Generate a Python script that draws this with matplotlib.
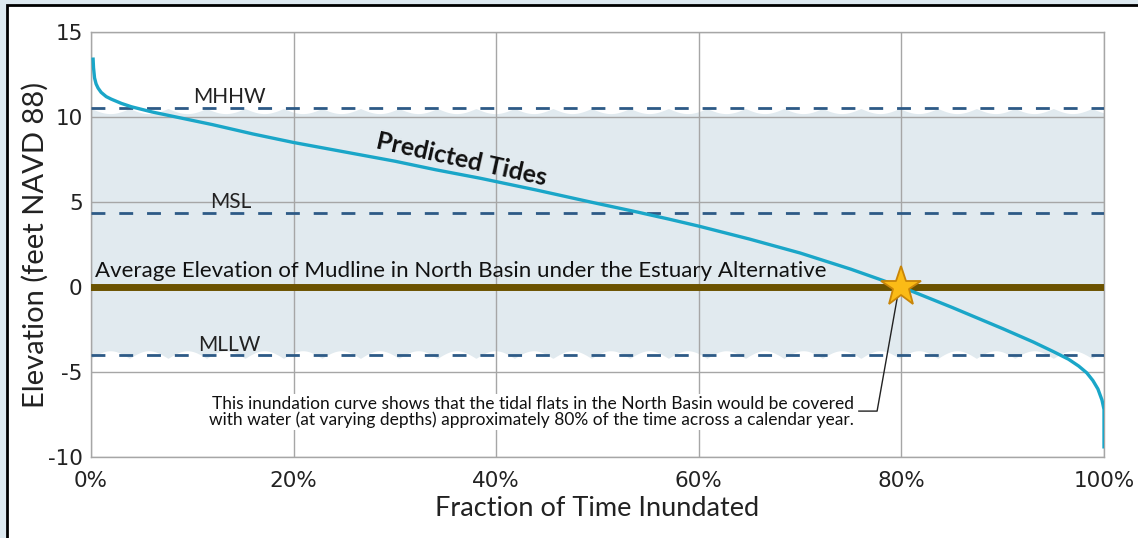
import numpy as np
import matplotlib
matplotlib.use('Agg')
import matplotlib.pyplot as plt
from matplotlib.patches import Rectangle

# inundation curve (percent of time, feet NAVD 88)
frac = [0.2, 0.25, 0.35, 0.5, 0.7, 1.0, 1.5, 2.0, 3.0, 4.0, 6.0, 8.0, 12.0, 16.0, 20.0,
        25.0, 30.0, 34.0, 38.4, 44.0, 49.3, 54.0, 57.0, 60.0, 65.0, 70.0, 75.0, 80.0,
        85.0, 90.0, 93.0, 95.0, 96.5, 97.5, 98.3, 98.9, 99.4, 99.8, 100.0, 100.0]
elev = [13.5, 12.9, 12.3, 11.95, 11.7, 11.45, 11.2, 11.05, 10.8, 10.6, 10.3, 10.05, 9.55,
        9.0, 8.5, 7.95, 7.4, 6.9, 6.4, 5.7, 5.0, 4.4, 4.0, 3.58, 2.82, 2.0, 1.05, 0.0,
        -1.2, -2.45, -3.23, -3.8, -4.25, -4.65, -5.05, -5.5, -6.0, -6.65, -7.2, -9.5]

levels = {'MHHW': 10.55, 'MSL': 4.35, 'MLLW': -4.0}
mudline = 0.0
star_x, star_y = 80.0, 0.0

xticks = [0, 20, 40, 60, 80, 100]
xtick_labels = ['0%', '20%', '40%', '60%', '80%', '100%']
yticks = [-10, -5, 0, 5, 10, 15]

plt.rcParams['font.family'] = ['Lato', 'DejaVu Sans']
plt.rcParams['axes.unicode_minus'] = False

fig = plt.figure(figsize=(11.38, 5.38), dpi=100, facecolor='#dde9f0')
# white card with black frame
fig.add_artist(Rectangle((7 / 1138, -0.05), 1.2, (538 - 5) / 538 + 0.05,
                         transform=fig.transFigure, facecolor='white',
                         edgecolor='black', lw=2, zorder=0))

ax = fig.add_axes([91 / 1138, 81 / 538, 1013 / 1138, 425 / 538])
ax.set_facecolor('none')
ax.set_xlim(0, 100)
ax.set_ylim(-10, 15)

# shaded tidal band with scalloped edges
xs = np.linspace(0, 100, 1200)
ph = np.abs(np.sin(np.pi * xs / 3.8))
top = 10.5 - 0.3 * ph
bot = -4.2 + 0.45 * ph
ax.fill_between(xs, bot, top, color='#e1eaef', lw=0, zorder=1)

ax.set_xticks(xticks)
ax.set_xticklabels(xtick_labels)
ax.set_yticks(yticks)
ax.grid(True, color='#a6a6a6', lw=1, zorder=2)
ax.set_axisbelow(False)
for s in ax.spines.values():
    s.set_color('#a6a6a6')
    s.set_linewidth(1)
    s.set_zorder(2)
ax.tick_params(length=0, labelsize=15.5, colors='#222222')
for lab in ax.get_xticklabels() + ax.get_yticklabels():
    lab.set_family('DejaVu Sans')
ax.tick_params(axis='x', pad=10)
ax.tick_params(axis='y', pad=6)

for name, val in levels.items():
    ax.axhline(val, color='#2d5a86', lw=2, ls=(0, (5, 5)), zorder=3)

ax.axhline(mudline, color='#6b5200', lw=5, zorder=3)

ax.plot(frac, elev, color='#1aa6c8', lw=2.4, zorder=4, solid_capstyle='butt')

# leader line from note to star
ax.plot([75.8, 77.6, 79.6], [-7.3, -7.3, -0.6], color='#222222', lw=1, zorder=5)
ax.plot([star_x], [star_y], marker='*', ms=30, mfc='#fbbb16', mec='#c88509', mew=1.3, zorder=6)

ax.text(13.7, 10.8, 'MHHW', ha='center', va='baseline', fontsize=15, color='#222222', zorder=5)
ax.text(13.8, 4.65, 'MSL', ha='center', va='baseline', fontsize=15, color='#222222', zorder=5)
ax.text(13.7, -3.75, 'MLLW', ha='center', va='baseline', fontsize=15, color='#222222', zorder=5)
ax.text(0.4, 0.6, 'Average Elevation of Mudline in North Basin under the Estuary Alternative',
        ha='left', va='baseline', fontsize=16, color='#111111', zorder=5)
ax.text(36.6, 7.5, 'Predicted Tides', ha='center', va='center', rotation=-12.5,
        fontsize=18, fontweight='bold', color='#111111', zorder=5)
ax.text(75.3, -7.35,
        'This inundation curve shows that the tidal flats in the North Basin would be covered\n'
        'with water (at varying depths) approximately 80% of the time across a calendar year.',
        ha='right', va='center', multialignment='right', fontsize=12.5, color='#111111',
        linespacing=1.0, zorder=5,
        bbox=dict(facecolor='white', edgecolor='none', pad=1))

ax.set_xlabel('Fraction of Time Inundated', fontsize=19.5, color='#222222', labelpad=4)
ax.set_ylabel('Elevation (feet NAVD 88)', fontsize=21, color='#222222', labelpad=-1)

fig.savefig('out.png', dpi=100, facecolor=fig.get_facecolor())
